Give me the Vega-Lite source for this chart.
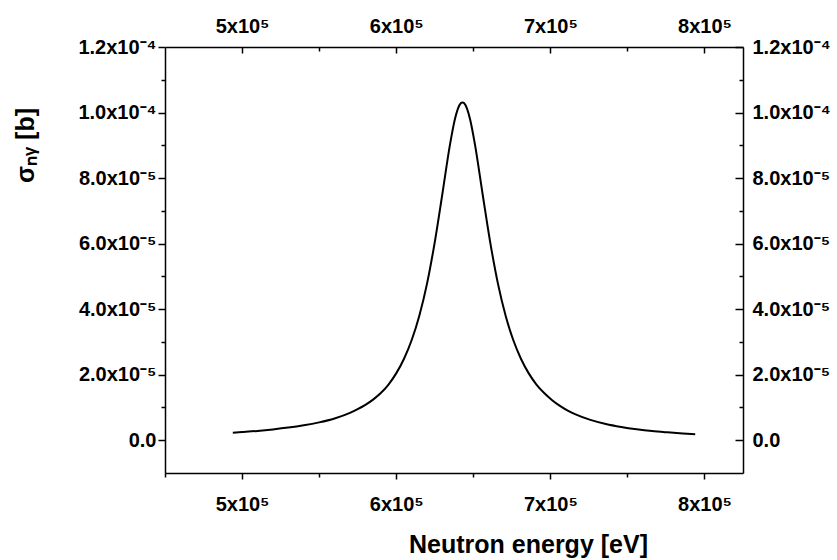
{
  "$schema": "https://vega.github.io/schema/vega-lite/v6.json",
  "width": 578,
  "height": 426,
  "autosize": "none",
  "padding": {"left": 165, "top": 47, "right": 94, "bottom": 87},
  "background": "white",
  "config": {
    "view": {"stroke": null},
    "font": "Liberation Sans",
    "axis": {
      "labelFont": "Liberation Sans",
      "labelFontWeight": "bold",
      "labelFontSize": 20,
      "labelColor": "black",
      "titleFont": "Liberation Sans",
      "titleFontWeight": "bold",
      "titleFontSize": 25,
      "titleColor": "black",
      "domainColor": "black",
      "domainWidth": 1.5,
      "tickColor": "black",
      "tickWidth": 1.5,
      "grid": false,
      "labelOverlap": false,
      "labelFlush": false
    }
  },
  "data": {
    "values": [
      {"E": 494000, "sigma": 2.30e-6},
      {"E": 500000, "sigma": 2.50e-6},
      {"E": 510000, "sigma": 2.85e-6},
      {"E": 520000, "sigma": 3.30e-6},
      {"E": 530000, "sigma": 3.85e-6},
      {"E": 540000, "sigma": 4.55e-6},
      {"E": 550000, "sigma": 5.45e-6},
      {"E": 560000, "sigma": 6.65e-6},
      {"E": 570000, "sigma": 8.35e-6},
      {"E": 575000, "sigma": 9.5e-6},
      {"E": 580000, "sigma": 1.08e-5},
      {"E": 585000, "sigma": 1.24e-5},
      {"E": 590000, "sigma": 1.44e-5},
      {"E": 595000, "sigma": 1.70e-5},
      {"E": 600000, "sigma": 2.04e-5},
      {"E": 605000, "sigma": 2.48e-5},
      {"E": 610000, "sigma": 3.05e-5},
      {"E": 615000, "sigma": 3.80e-5},
      {"E": 620000, "sigma": 4.78e-5},
      {"E": 625000, "sigma": 6.04e-5},
      {"E": 630000, "sigma": 7.53e-5},
      {"E": 635000, "sigma": 9.05e-5},
      {"E": 638000, "sigma": 9.78e-5},
      {"E": 640000, "sigma": 1.011e-4},
      {"E": 642000, "sigma": 1.0288e-4},
      {"E": 643000, "sigma": 1.031e-4},
      {"E": 644000, "sigma": 1.0288e-4},
      {"E": 646000, "sigma": 1.011e-4},
      {"E": 648000, "sigma": 9.78e-5},
      {"E": 651000, "sigma": 9.05e-5},
      {"E": 656000, "sigma": 7.53e-5},
      {"E": 661000, "sigma": 6.04e-5},
      {"E": 666000, "sigma": 4.78e-5},
      {"E": 671000, "sigma": 3.80e-5},
      {"E": 676000, "sigma": 3.05e-5},
      {"E": 681000, "sigma": 2.48e-5},
      {"E": 686000, "sigma": 2.04e-5},
      {"E": 691000, "sigma": 1.70e-5},
      {"E": 696000, "sigma": 1.44e-5},
      {"E": 701000, "sigma": 1.23e-5},
      {"E": 706000, "sigma": 1.055e-5},
      {"E": 711000, "sigma": 9.1e-6},
      {"E": 716000, "sigma": 7.95e-6},
      {"E": 726000, "sigma": 6.2e-6},
      {"E": 736000, "sigma": 4.95e-6},
      {"E": 746000, "sigma": 4.05e-6},
      {"E": 756000, "sigma": 3.35e-6},
      {"E": 766000, "sigma": 2.8e-6},
      {"E": 776000, "sigma": 2.4e-6},
      {"E": 786000, "sigma": 2.05e-6},
      {"E": 794000, "sigma": 1.82e-6}
    ]
  },
  "resolve": {"axis": {"x": "independent", "y": "independent"}},
  "layer": [
    {
      "mark": {"type": "line", "color": "black", "strokeWidth": 2, "interpolate": "monotone", "clip": true},
      "encoding": {
        "x": {
          "field": "E", "type": "quantitative",
          "scale": {"domain": [450000, 825000], "nice": false, "zero": false},
          "axis": {
            "orient": "bottom",
            "values": [500000, 600000, 700000, 800000],
            "tickSize": 6,
            "labelPadding": 31,
            "labelBaseline": "alphabetic",
            "labelExpr": "format(datum.value/100000,'d') + 'x10⁵'",
            "title": "Neutron energy [eV]",
            "titleX": 363,
            "titleY": 79,
            "titleAnchor": null,
            "titleAlign": "center",
            "titleBaseline": "alphabetic"
          }
        },
        "y": {
          "field": "sigma", "type": "quantitative",
          "scale": {"domain": [-0.00001, 0.00012], "nice": false, "zero": false},
          "axis": {
            "orient": "left",
            "values": [0, 0.00002, 0.00004, 0.00006, 0.00008, 0.0001, 0.00012],
            "tickSize": 7,
            "labelPadding": 2,
            "labelExpr": "datum.value == 0 ? '0.0' : (datum.value > 0.000099 ? format(datum.value*10000,'.1f') + 'x10⁻⁴' : format(datum.value*100000,'.1f') + 'x10⁻⁵')",
            "title": "σₙᵧ [b]",
            "titleAngle": 270,
            "titleX": -132,
            "titleY": 98,
            "titleAlign": "center",
            "titleBaseline": "alphabetic"
          }
        }
      }
    },
    {
      "mark": {"type": "line", "strokeOpacity": 0},
      "encoding": {
        "x": {
          "field": "E", "type": "quantitative",
          "axis": {
            "orient": "top",
            "values": [500000, 600000, 700000, 800000],
            "tickSize": -6,
            "labelPadding": 21,
            "labelBaseline": "alphabetic",
            "labelExpr": "format(datum.value/100000,'d') + 'x10⁵'",
            "title": null
          }
        },
        "y": {
          "field": "sigma", "type": "quantitative",
          "axis": {
            "orient": "right",
            "values": [0, 0.00002, 0.00004, 0.00006, 0.00008, 0.0001, 0.00012],
            "tickSize": -8,
            "labelPadding": 17,
            "labelExpr": "datum.value == 0 ? '0.0' : (datum.value > 0.000099 ? format(datum.value*10000,'.1f') + 'x10⁻⁴' : format(datum.value*100000,'.1f') + 'x10⁻⁵')",
            "title": null
          }
        }
      }
    },
    {
      "mark": {"type": "line", "strokeOpacity": 0},
      "encoding": {
        "x": {
          "field": "E", "type": "quantitative",
          "axis": {
            "orient": "bottom",
            "values": [450000, 550000, 650000, 750000],
            "tickSize": 4,
            "labels": false,
            "domain": false,
            "title": null
          }
        },
        "y": {
          "field": "sigma", "type": "quantitative",
          "axis": {
            "orient": "left",
            "values": [0.00001, 0.00003, 0.00005, 0.00007, 0.00009, 0.00011],
            "tickSize": 4,
            "labels": false,
            "domain": false,
            "title": null
          }
        }
      }
    },
    {
      "mark": {"type": "line", "strokeOpacity": 0},
      "encoding": {
        "x": {
          "field": "E", "type": "quantitative",
          "axis": {
            "orient": "top",
            "values": [550000, 650000, 750000],
            "tickSize": -4,
            "labels": false,
            "domain": false,
            "title": null
          }
        },
        "y": {
          "field": "sigma", "type": "quantitative",
          "axis": {
            "orient": "right",
            "values": [0.00001, 0.00003, 0.00005, 0.00007, 0.00009, 0.00011],
            "tickSize": -4,
            "labels": false,
            "domain": false,
            "title": null
          }
        }
      }
    }
  ]
}
